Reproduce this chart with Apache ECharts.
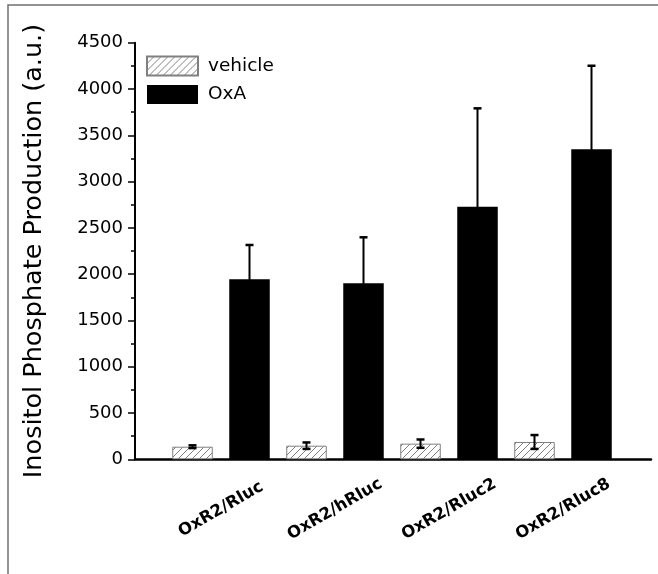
<!DOCTYPE html>
<html>
<head>
<meta charset="utf-8">
<script src="https://cdn.jsdelivr.net/npm/echarts@6/dist/echarts.min.js"></script>
<style>
html,body{margin:0;padding:0;background:#fff;}
#chart{width:658px;height:574px;}
</style>
</head>
<body>
<div id="chart"></div>
<script>
// ---- data ----
const categories = ['OxR2/Rluc', 'OxR2/hRluc', 'OxR2/Rluc2', 'OxR2/Rluc8'];
const vehicleValues = [136, 147, 169, 187];
const vehicleErrors = [15, 35, 45, 75];
const oxaValues = [1944, 1901, 2728, 3348];
const oxaErrors = [371, 497, 1063, 903];
const yTicks = [0, 500, 1000, 1500, 2000, 2500, 3000, 3500, 4000, 4500];

// ---- layout/style ----
const FONT = 'DejaVu Sans';
const BAR_W = 40.5;
const BAR_GAP_PX = 16.5;
const HALF_OFFSET = (BAR_W + BAR_GAP_PX) / 2;

// hatch pattern
const pc = document.createElement('canvas');
pc.width = 7; pc.height = 7;
const g = pc.getContext('2d');
g.fillStyle = '#fff'; g.fillRect(0, 0, 7, 7);
g.strokeStyle = '#808080'; g.lineWidth = 1;
g.beginPath();
g.moveTo(-1, 8); g.lineTo(8, -1);
g.moveTo(-1, 1); g.lineTo(1, -1);
g.moveTo(6, 8); g.lineTo(8, 6);
g.stroke();
const hatch = { image: pc, repeat: 'repeat' };

function errorRenderer(offset) {
  return function (params, api) {
    const c = api.value(0), v = api.value(1), e = api.value(2);
    const top = api.coord([c, v + e]);
    const bot = api.coord([c, v - e]);
    const x = top[0] + offset;
    const style = { stroke: '#000', lineWidth: 2 };
    return {
      type: 'group',
      children: [
        { type: 'line', shape: { x1: x, y1: top[1], x2: x, y2: bot[1] }, style: style },
        { type: 'line', shape: { x1: x - 4, y1: top[1], x2: x + 4, y2: top[1] }, style: { stroke: '#000', lineWidth: 2.5 } },
        { type: 'line', shape: { x1: x - 4, y1: bot[1], x2: x + 4, y2: bot[1] }, style: { stroke: '#000', lineWidth: 2.5 } }
      ]
    };
  };
}

const chart = echarts.init(document.getElementById('chart'), null, { renderer: 'canvas' });
const option = {
  animation: false,
  backgroundColor: '#fff',
  textStyle: { fontFamily: FONT },
  graphic: [{
    type: 'rect', silent: true, z: -10,
    shape: { x: 8, y: 5, width: 700, height: 700 },
    style: { fill: 'none', stroke: '#707070', lineWidth: 1.5 }
  }],
  legend: {
    orient: 'vertical',
    left: 141, top: 50.5,
    itemWidth: 51, itemHeight: 19, itemGap: 8.5,
    icon: 'rect',
    textStyle: { fontFamily: FONT, fontSize: 18.5, color: '#000', padding: [0, 0, 0, 5] },
    data: ['vehicle', 'OxA']
  },
  grid: [
    { left: 164, right: 38, top: 42.7, bottom: 114.7 },
    { left: 135, right: 7, top: 42.7, bottom: 114.7 }
  ],
  xAxis: [
    {
      type: 'category', gridIndex: 0, data: categories,
      axisLine: { show: false }, axisTick: { show: false },
      axisLabel: {
        interval: 0, rotate: 30, align: 'center', verticalAlign: 'middle',
        margin: 50, fontFamily: FONT, fontWeight: 'bold', fontSize: 16.5, color: '#000'
      }
    },
    {
      type: 'value', gridIndex: 1, min: 0, max: 1,
      axisLine: { show: true, lineStyle: { color: '#000', width: 2.5 } },
      axisTick: { show: false }, axisLabel: { show: false }, splitLine: { show: false }
    }
  ],
  yAxis: [
    {
      type: 'value', gridIndex: 0, offset: 29,
      min: yTicks[0], max: yTicks[yTicks.length - 1], interval: yTicks[1] - yTicks[0],
      name: 'Inositol Phosphate Production (a.u.)',
      nameLocation: 'middle', nameGap: 88,
      nameTextStyle: { fontFamily: FONT, fontSize: 25.5, color: '#000' },
      axisLine: { show: true, lineStyle: { color: '#000', width: 2 } },
      axisTick: { show: true, length: 7, lineStyle: { color: '#000', width: 1.5 } },
      minorTick: { show: true, splitNumber: 2, length: 4, lineStyle: { color: '#000', width: 1.5 } },
      axisLabel: { margin: 12, fontFamily: FONT, fontSize: 18, color: '#000', formatter: v => String(v) },
      splitLine: { show: false }
    },
    { type: 'value', gridIndex: 1, show: false, min: 0, max: 1 }
  ],
  series: [
    {
      name: 'vehicle', type: 'bar', xAxisIndex: 0, yAxisIndex: 0,
      data: vehicleValues, barWidth: BAR_W, barGap: (BAR_GAP_PX / BAR_W * 100) + '%',
      itemStyle: { color: hatch, borderColor: '#808080', borderWidth: 1 }
    },
    {
      name: 'OxA', type: 'bar', xAxisIndex: 0, yAxisIndex: 0,
      data: oxaValues, barWidth: BAR_W,
      itemStyle: { color: '#000' }
    },
    {
      type: 'custom', xAxisIndex: 0, yAxisIndex: 0, z: 5,
      renderItem: errorRenderer(-HALF_OFFSET),
      encode: { x: 0, y: 1 },
      data: vehicleValues.map((v, i) => [i, v, vehicleErrors[i]])
    },
    {
      type: 'custom', xAxisIndex: 0, yAxisIndex: 0, z: 5,
      renderItem: errorRenderer(HALF_OFFSET),
      encode: { x: 0, y: 1 },
      data: oxaValues.map((v, i) => [i, v, oxaErrors[i]])
    }
  ]
};
chart.setOption(option);
</script>
</body>
</html>
